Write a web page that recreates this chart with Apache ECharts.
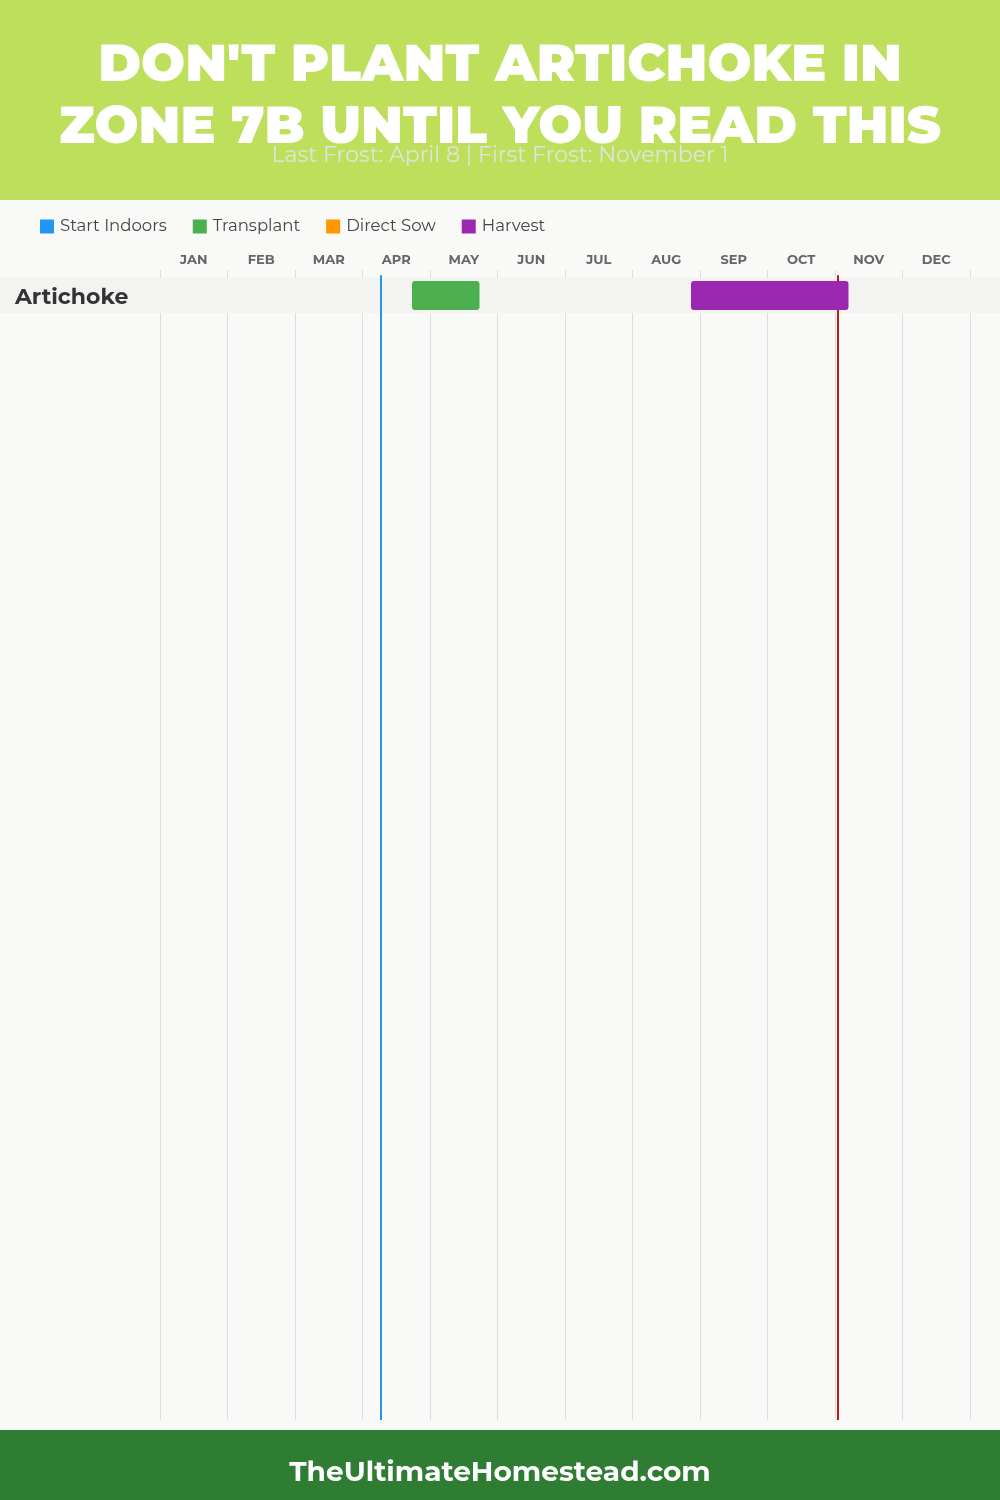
<!DOCTYPE html>
<html>
<head>
<meta charset="utf-8">
<script src="https://cdn.jsdelivr.net/npm/echarts@6/dist/echarts.min.js"></script>
<style>
html,body{margin:0;padding:0;background:#f9f9f8;}
#chart{width:1000px;height:1500px;}
</style>
</head>
<body>
<div id="chart"></div>
<script>
// ---- data ----
const months = ['JAN','FEB','MAR','APR','MAY','JUN','JUL','AUG','SEP','OCT','NOV','DEC'];
const crops = ['Artichoke'];
// [cropIndex, startMonth, startDay, endMonth, endDay]
const startIndoors = [];
const transplant = [[0, 4, 22, 5, 22]];
const directSow = [];
const harvest = [[0, 8, 26, 11, 6]];
const lastFrost = [4, 8];
const firstFrost = [11, 1];
const titleLines = ["DON'T PLANT ARTICHOKE IN", "ZONE 7B UNTIL YOU READ THIS"];
const subtitle = 'Last Frost: April 8 | First Frost: November 1';
const footer = 'TheUltimateHomestead.com';

// month + day -> fractional month position on the axis (0 = Jan 1)
function pos(m, d) { return (m - 1) + d / 30; }
function toSpans(arr) { return arr.map(r => [r[0], pos(r[1], r[2]), pos(r[3], r[4])]); }

const colors = {
  'Start Indoors': '#2196f3',
  'Transplant': '#4caf50',
  'Direct Sow': '#ff9800',
  'Harvest': '#9c27b0'
};

function barRender(params, api) {
  const y = api.value(0);
  const s = api.coord([api.value(1), y]);
  const e = api.coord([api.value(2), y]);
  const h = api.size([0, 1])[1];
  return {
    type: 'rect',
    shape: { x: s[0], y: s[1] - h / 2 + 3, width: e[0] - s[0], height: h - 6, r: 3 },
    style: { fill: api.visual('color') }
  };
}
function stageSeries(name, arr) {
  return {
    name: name, type: 'custom', xAxisIndex: 2, yAxisIndex: 1, z: 5,
    color: colors[name],
    renderItem: barRender,
    encode: { x: [1, 2], y: 0 },
    data: toSpans(arr)
  };
}

const chart = echarts.init(document.getElementById('chart'), null, { renderer: 'canvas' });
const FONT = 'Montserrat, Inter, "Open Sans", sans-serif';
const LINE_TOP = 0.0045; // frost lines start just below the grid top
chart.setOption({
  backgroundColor: '#f9f9f8',
  animation: false,
  textStyle: { fontFamily: FONT },
  graphic: [
    { type: 'rect', z: -10, shape: { x: 0, y: 0, width: 1000, height: 200 }, style: { fill: '#bedf5c' } },
    { type: 'text', left: 'center', top: 40, style: { text: titleLines[0], fill: '#ffffff', font: '900 52px ' + FONT, textAlign: 'center' } },
    { type: 'text', left: 'center', top: 102, style: { text: titleLines[1], fill: '#ffffff', font: '900 52px ' + FONT, textAlign: 'center' } },
    { type: 'text', left: 'center', top: 145, style: { text: subtitle, fill: '#e2e3dc', font: '400 22px ' + FONT, textAlign: 'center' } },
    { type: 'rect', z: -10, shape: { x: 0, y: 1430, width: 1000, height: 70 }, style: { fill: '#2e7d32' } },
    { type: 'text', left: 'center', top: 1459, style: { text: footer, fill: '#ffffff', font: 'bold 28px ' + FONT, textAlign: 'center' } }
  ],
  legend: {
    data: ['Start Indoors', 'Transplant', 'Direct Sow', 'Harvest'],
    left: 40, top: 218, padding: 0, icon: 'rect', itemWidth: 14, itemHeight: 14, itemGap: 26,
    textStyle: { fontSize: 16.5, color: '#444', fontFamily: FONT, padding: [0, 0, 0, 1] },
    selectedMode: false
  },
  grid: [
    { left: 160, right: 30, top: 270, bottom: 80 },
    { left: 160, right: 30, top: 278, height: 35 }
  ],
  xAxis: [
    { type: 'value', gridIndex: 0, min: 0, max: 12, interval: 1,
      axisLine: { show: false }, axisTick: { show: false }, axisLabel: { show: false },
      splitLine: { show: true, lineStyle: { color: '#dddddd', width: 1 } } },
    { type: 'category', gridIndex: 0, position: 'top', data: months, boundaryGap: true,
      axisLine: { show: false }, axisTick: { show: false }, splitLine: { show: false },
      axisLabel: { color: '#666', fontSize: 13, fontWeight: 'bold', margin: 3, fontFamily: FONT } },
    { type: 'value', gridIndex: 1, min: 0, max: 12, show: false }
  ],
  yAxis: [
    { type: 'value', gridIndex: 0, min: 0, max: 1, inverse: true, show: false },
    { type: 'category', gridIndex: 1, data: crops, inverse: true, z: 8,
      axisLine: { show: false }, axisTick: { show: false }, splitLine: { show: false },
      axisLabel: { align: 'left', margin: 145, formatter: '{a|{value}}',
        rich: { a: { color: '#333', fontSize: 22, fontWeight: 'bold', fontFamily: FONT, lineHeight: 26, padding: [4, 0, 0, 0] } } } }
  ],
  series: [
    { name: 'rowBand', type: 'custom', xAxisIndex: 2, yAxisIndex: 1, z: 1, silent: true,
      renderItem: function (params, api) {
        const c = api.coord([0, api.value(0)]);
        const h = api.size([0, 1])[1];
        return { type: 'rect', shape: { x: 0, y: c[1] - h / 2, width: api.getWidth(), height: h }, style: { fill: '#f3f3f2' } };
      },
      encode: { y: 0 },
      data: crops.map((c, i) => [i]) },
    stageSeries('Start Indoors', startIndoors),
    stageSeries('Transplant', transplant),
    stageSeries('Direct Sow', directSow),
    stageSeries('Harvest', harvest),
    { name: 'frost', type: 'line', xAxisIndex: 0, yAxisIndex: 0, z: 10, data: [],
      markLine: { silent: true, symbol: ['none', 'none'], label: { show: false },
        data: [
          [ { coord: [pos(lastFrost[0], lastFrost[1]), LINE_TOP], lineStyle: { color: '#2196f3', width: 2, type: 'solid' } },
            { coord: [pos(lastFrost[0], lastFrost[1]), 1] } ],
          [ { coord: [pos(firstFrost[0], firstFrost[1]), LINE_TOP], lineStyle: { color: '#b71c1c', width: 2, type: 'solid' } },
            { coord: [pos(firstFrost[0], firstFrost[1]), 1] } ]
        ] } }
  ]
});
</script>
</body>
</html>
